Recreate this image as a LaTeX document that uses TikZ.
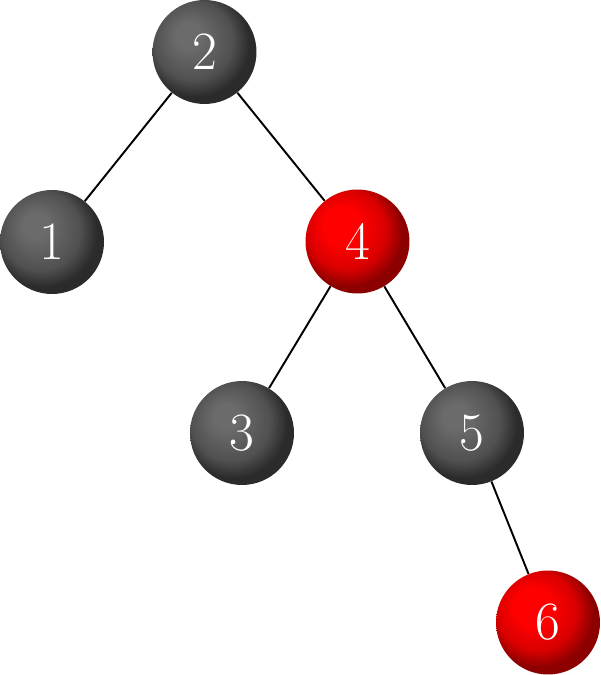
\documentclass[tikz,border=0pt]{standalone}
\definecolor{nodegray}{gray}{0.42}
\pgfdeclareradialshading{grayball}{\pgfpoint{-9bp}{9bp}}{color(0bp)=(nodegray); color(6bp)=(nodegray); color(19bp)=(nodegray!75!black); color(26bp)=(nodegray!40!black); color(50bp)=(nodegray!40!black)}
\pgfdeclareradialshading{redball}{\pgfpoint{-9bp}{9bp}}{color(0bp)=(red); color(9bp)=(red); color(19bp)=(red!85!black); color(26bp)=(red!55!black); color(50bp)=(red!55!black)}
\tikzset{
  treenode/.style={circle, inner sep=0pt, minimum size=2.08cm, text=white, font=\fontsize{30.7}{36}\selectfont},
  blacknode/.style={treenode, shade, shading=grayball},
  rednode/.style={treenode, shade, shading=redball},
  edge/.style={line width=1.1pt, black}
}
\begin{document}
\begin{tikzpicture}[x=0.02cm, y=-0.02cm]
\useasboundingbox (0,0) rectangle (600,675);
\node[blacknode] (n2) at (204.5,52) {2};
\node[blacknode] (n1) at (52,242) {1};
\node[rednode] (n4) at (357.5,241.5) {4};
\node[blacknode] (n3) at (242,433) {3};
\node[blacknode] (n5) at (472,433) {5};
\node[rednode] (n6) at (548,622.5) {6};
\draw[edge] (n2) -- (n1);
\draw[edge] (n2) -- (n4);
\draw[edge] (n4) -- (n3);
\draw[edge] (n4) -- (n5);
\draw[edge] (n5) -- (n6);
\end{tikzpicture}
\end{document}
